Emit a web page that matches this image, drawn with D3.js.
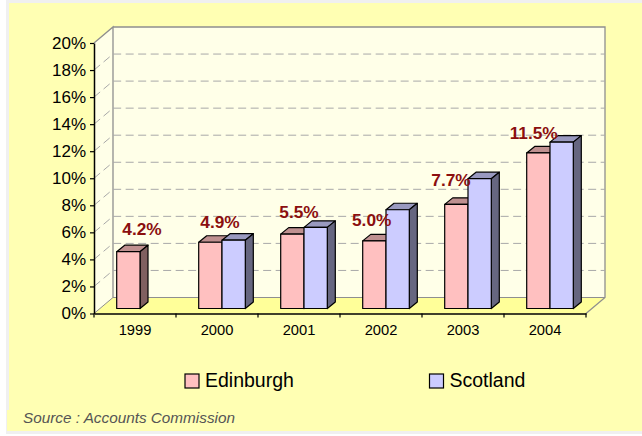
<!DOCTYPE html>
<html>
<head>
<meta charset="utf-8">
<script src="https://cdn.jsdelivr.net/npm/d3@7"></script>
<style>
  html, body { margin: 0; padding: 0; background: #fff; }
  text { font-family: "Liberation Sans", Arial, sans-serif; }
</style>
</head>
<body>
<script>
// 3d looking column chart, the depth is just an x/y offset

const years = ["1999", "2000", "2001", "2002", "2003", "2004"];
const edinburgh = [4.2, 4.9, 5.5, 5.0, 7.7, 11.5];
const scotland = [null, 5.05, 6.0, 7.3, 9.6, 12.3];
const yTicks = [0, 2, 4, 6, 8, 10, 12, 14, 16, 18, 20];
const seriesNames = ["Edinburgh", "Scotland"];

const width = 642, height = 436;

// front plane of the plot
const plotLeft = 94, plotRight = 586, plotTop = 43, plotBottom = 313.5;
// how far the back wall sits from the front plane
const wallDx = 19, wallDy = 16;
// bar depth and how far bars sit in from the front
const barDx = 8, barDy = 6.5, barInset = 5;
const barWidth = 23.3;

const pink = { front: "#ffc0c0", top: "#bf9090", side: "#806060" };
const blue = { front: "#ccccff", top: "#9999bf", side: "#666680" };
const wallGrey = "#8f8f8f";

const x = d3.scaleBand().domain(years).range([plotLeft, plotRight]);
const y = d3.scaleLinear().domain([0, 20]).range([plotBottom, plotTop]);

const svg = d3.select("body").append("svg")
  .attr("width", width)
  .attr("height", height)
  .style("display", "block");

// grey frame then the yellow sheet
svg.append("rect").attr("x", 6).attr("y", 0).attr("width", 636).attr("height", 434).attr("fill", "#f0f0f0");
svg.append("rect").attr("x", 9).attr("y", 3).attr("width", 633).attr("height", 407).attr("fill", "#ffffb3");
svg.append("rect").attr("x", 7).attr("y", 410).attr("width", 635).attr("height", 21).attr("fill", "#ffffb3");

// back wall and side wall
svg.append("path")
  .attr("d", `M${plotLeft},${plotTop}L${plotLeft + wallDx},${plotTop - wallDy}H${plotRight + wallDx}V${plotBottom - wallDy}H${plotLeft + wallDx}L${plotLeft},${plotBottom}Z`)
  .attr("fill", "#ffffe8");

// floor
svg.append("path")
  .attr("d", `M${plotLeft},${plotBottom}L${plotLeft + wallDx},${plotBottom - wallDy}H${plotRight + wallDx}L${plotRight},${plotBottom}Z`)
  .attr("fill", "#ffff99");

// wall edges
svg.append("path")
  .attr("d", `M${plotLeft},${plotTop}L${plotLeft + wallDx},${plotTop - wallDy}V${plotBottom - wallDy}`)
  .attr("fill", "none").attr("stroke", wallGrey).attr("stroke-width", 1.3);
svg.append("path")
  .attr("d", `M${plotLeft + wallDx},${plotTop - wallDy}H${plotRight + wallDx}V${plotBottom - wallDy}L${plotRight},${plotBottom}`)
  .attr("fill", "none").attr("stroke", wallGrey).attr("stroke-width", 1.3);
svg.append("path")
  .attr("d", `M${plotLeft},${plotBottom}L${plotLeft + wallDx},${plotBottom - wallDy}H${plotRight + wallDx}`)
  .attr("fill", "none").attr("stroke", wallGrey).attr("stroke-width", 1);

// gridlines
svg.append("g")
  .selectAll("path")
  .data(yTicks.filter(d => d > 0 && d < 20))
  .enter()
  .append("path")
  .attr("d", d => `M${plotLeft},${y(d)}L${plotLeft + wallDx},${y(d) - wallDy}H${plotRight + wallDx}`)
  .attr("fill", "none")
  .attr("stroke", "#a8a8a8")
  .attr("stroke-width", 1)
  .attr("stroke-dasharray", "8,4.5");

function drawBar(g, xPos, value, colors) {
  const yTop = y(value) - barInset;
  const yBase = y(0) - barInset;

  g.append("path")
    .attr("d", `M${xPos},${yTop}l${barDx},${-barDy}h${barWidth}l${-barDx},${barDy}Z`)
    .attr("fill", colors.top);
  g.append("path")
    .attr("d", `M${xPos + barWidth},${yTop}l${barDx},${-barDy}V${yBase - barDy}l${-barDx},${barDy}Z`)
    .attr("fill", colors.side);
  g.append("rect")
    .attr("x", xPos)
    .attr("y", yTop)
    .attr("width", barWidth)
    .attr("height", yBase - yTop)
    .attr("fill", colors.front);
  g.selectAll("path,rect")
    .attr("stroke", "#000")
    .attr("stroke-width", 1.2)
    .attr("stroke-linejoin", "round");
}

const bars = svg.append("g");
years.forEach((year, i) => {
  const g = bars.append("g");
  const center = x(year) + x.bandwidth() / 2 + barInset;
  drawBar(g, center - barWidth, edinburgh[i], pink);
  // no Scotland figure for 1999
  if (scotland[i] !== null) {
    drawBar(g, center, scotland[i], blue);
  }
});

// label nudges, from band centre and from the bar top
const labelDx = [7, 3, 0, -9.3, -12, -11.3];
const labelDy = [16.7, 14.2, 15.8, 14.6, 18.3, 14.4];
svg.append("g")
  .selectAll("text")
  .data(edinburgh)
  .enter()
  .append("text")
  .attr("x", (d, i) => x(years[i]) + x.bandwidth() / 2 + labelDx[i])
  .attr("y", (d, i) => y(d) - barInset - labelDy[i])
  .attr("text-anchor", "middle")
  .attr("font-size", "17.3px")
  .attr("font-weight", "bold")
  .attr("fill", "#8b0f0f")
  .text(d => d.toFixed(1) + "%");

// axes
const yAxis = d3.axisLeft(y).tickValues(yTicks).tickSize(4).tickSizeOuter(0).tickPadding(4).tickFormat(d => d + "%");
const gy = svg.append("g").attr("transform", `translate(${plotLeft},0)`).call(yAxis);
gy.select(".domain").attr("stroke", "#000").attr("stroke-width", 1.5);
gy.selectAll("text").attr("font-size", "17px").attr("fill", "#000").style("font-family", "Liberation Sans");
gy.selectAll(".tick line").attr("stroke", "#000").attr("stroke-width", 1.2);

const xAxis = d3.axisBottom(x).tickSize(0).tickPadding(11);
const gx = svg.append("g").attr("transform", `translate(0,${plotBottom})`).call(xAxis);
gx.select(".domain").attr("stroke", "#000").attr("stroke-width", 1.5);
gx.selectAll("text").attr("font-size", "14.7px").attr("fill", "#000").style("font-family", "Liberation Sans");
gx.append("g")
  .selectAll("line")
  .data(d3.range(years.length + 1))
  .enter()
  .append("line")
  .attr("x1", d => plotLeft + d * x.bandwidth())
  .attr("x2", d => plotLeft + d * x.bandwidth())
  .attr("y1", 0)
  .attr("y2", 4)
  .attr("stroke", "#000")
  .attr("stroke-width", 1.2);

// legend
const legendX = [185, 429.5];
const legendColors = [pink.front, blue.front];
const legend = svg.append("g")
  .selectAll("g")
  .data(seriesNames)
  .enter()
  .append("g")
  .attr("transform", (d, i) => `translate(${legendX[i]},374)`);
legend.append("rect")
  .attr("width", 14).attr("height", 14)
  .attr("fill", (d, i) => legendColors[i])
  .attr("stroke", "#000").attr("stroke-width", 1.2);
legend.append("text")
  .attr("x", 20)
  .attr("y", 12.8)
  .attr("font-size", "19.5px")
  .attr("fill", "#000")
  .text(d => d);

svg.append("text")
  .attr("x", 23).attr("y", 423.3)
  .attr("font-size", "15.3px")
  .attr("font-style", "italic")
  .attr("fill", "#555")
  .text("Source : Accounts Commission");
</script>
</body>
</html>
